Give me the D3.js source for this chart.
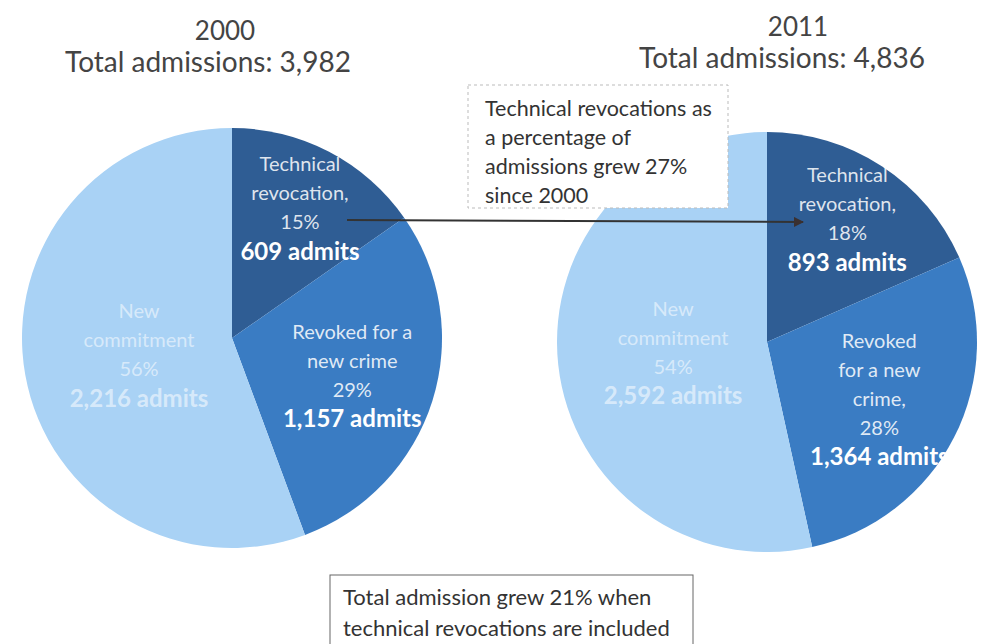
<!DOCTYPE html>
<html>
<head>
<meta charset="utf-8">
<script src="https://cdn.jsdelivr.net/npm/d3@7"></script>
<style>
  body { margin: 0; background: #fff; }
  svg { display: block; font-family: Lato, "Open Sans", sans-serif; }
</style>
</head>
<body>
<div id="chart"></div>
<script>
// data
const years = ["2000", "2011"];
const totals = [3982, 4836];
const categories = ["Technical revocation", "Revoked for a new crime", "New commitment"];
const admits2000 = [609, 1157, 2216];
const admits2011 = [893, 1364, 2592];
const lines2000 = [["Technical", "revocation,", "15%"], ["Revoked for a", "new crime", "29%"], ["New", "commitment", "56%"]];
const lines2011 = [["Technical", "revocation,", "18%"], ["Revoked", "for a new", "crime,", "28%"], ["New", "commitment", "54%"]];
const calloutTop = ["Technical revocations as", "a percentage of", "admissions grew 27%", "since 2000"];
const calloutBottom = ["Total admission grew 21% when", "technical revocations are included"];

const width = 983, height = 644;
const colors = ["#2f5d94", "#3a7cc3", "#a9d2f5"];
const labelRadius = [0.7, 0.6, 0.45];
const fmt = d3.format(",");

const svg = d3.select("#chart").append("svg")
  .attr("width", width).attr("height", height);

const pies = [
  { cx: 232, cy: 338, r: 210, values: admits2000, lines: lines2000, titleX: 225, subX: 208, yearY: 40, subY: 72 },
  { cx: 767, cy: 342, r: 210, values: admits2011, lines: lines2011, titleX: 798, subX: 782, yearY: 36, subY: 68 }
];

const pie = d3.pie().sort(null).value(d => d);

pies.forEach((p, pi) => {
  const g = svg.append("g").attr("transform", `translate(${p.cx},${p.cy})`);
  const arc = d3.arc().innerRadius(0).outerRadius(p.r);
  const arcs = pie(p.values);

  g.selectAll("path.slice")
    .data(arcs)
    .enter().append("path")
    .attr("class", "slice")
    .attr("d", arc)
    .attr("fill", (d, i) => colors[i]);

  arcs.forEach((a, i) => {
    const lr = p.r * labelRadius[i];
    const c = d3.arc().innerRadius(lr).outerRadius(lr).centroid(a);
    const lines = p.lines[i].concat([fmt(p.values[i]) + " admits"]);
    const step = 29;
    const y0 = c[1] - (lines.length - 1) * step / 2;
    const t = g.append("text")
      .attr("text-anchor", "middle")
      .attr("fill", "#fff");
    lines.forEach((s, k) => {
      const last = k === lines.length - 1;
      t.append("tspan")
        .attr("x", c[0])
        .attr("y", y0 + k * step)
        .attr("dy", "0.35em")
        .attr("font-size", last ? 24 : 20)
        .attr("font-weight", last ? "bold" : "normal")
        .attr("fill-opacity", i === 2 ? 0.55 : (last ? 1 : 0.85))
        .text(s);
    });
  });

  svg.append("text")
    .attr("x", p.titleX).attr("y", p.yearY)
    .attr("text-anchor", "middle")
    .attr("font-size", 26).attr("fill", "#444")
    .text(years[pi]);
  svg.append("text")
    .attr("x", p.subX).attr("y", p.subY)
    .attr("text-anchor", "middle")
    .attr("font-size", 28).attr("fill", "#444")
    .text("Total admissions: " + fmt(totals[pi]));
});

// top callout
svg.append("rect")
  .attr("x", 468).attr("y", 85).attr("width", 260).attr("height", 123)
  .attr("fill", "#fff").attr("stroke", "#bbb").attr("stroke-dasharray", "3,3");
const ct = svg.append("text").attr("font-size", 21.5).attr("fill", "#333");
calloutTop.forEach((s, k) => {
  ct.append("tspan").attr("x", 485).attr("y", 108 + k * 29).attr("dy", "0.35em").text(s);
});

// arrow
svg.append("defs").append("marker")
  .attr("id", "arrow")
  .attr("viewBox", "0 0 10 10")
  .attr("refX", 9).attr("refY", 5)
  .attr("markerWidth", 6).attr("markerHeight", 5)
  .attr("orient", "auto")
  .append("path").attr("d", "M0,0L10,5L0,10z").attr("fill", "#3a3030");
svg.append("line")
  .attr("x1", 347).attr("y1", 220).attr("x2", 803).attr("y2", 222)
  .attr("stroke", "#333").attr("stroke-width", 2)
  .attr("marker-end", "url(#arrow)");

// bottom callout
svg.append("rect")
  .attr("x", 330).attr("y", 575).attr("width", 363).attr("height", 80)
  .attr("fill", "#fff").attr("stroke", "#666");
const cb = svg.append("text").attr("font-size", 22).attr("fill", "#333");
calloutBottom.forEach((s, k) => {
  cb.append("tspan").attr("x", 343).attr("y", 597 + k * 31).attr("dy", "0.35em").text(s);
});
</script>
</body>
</html>
